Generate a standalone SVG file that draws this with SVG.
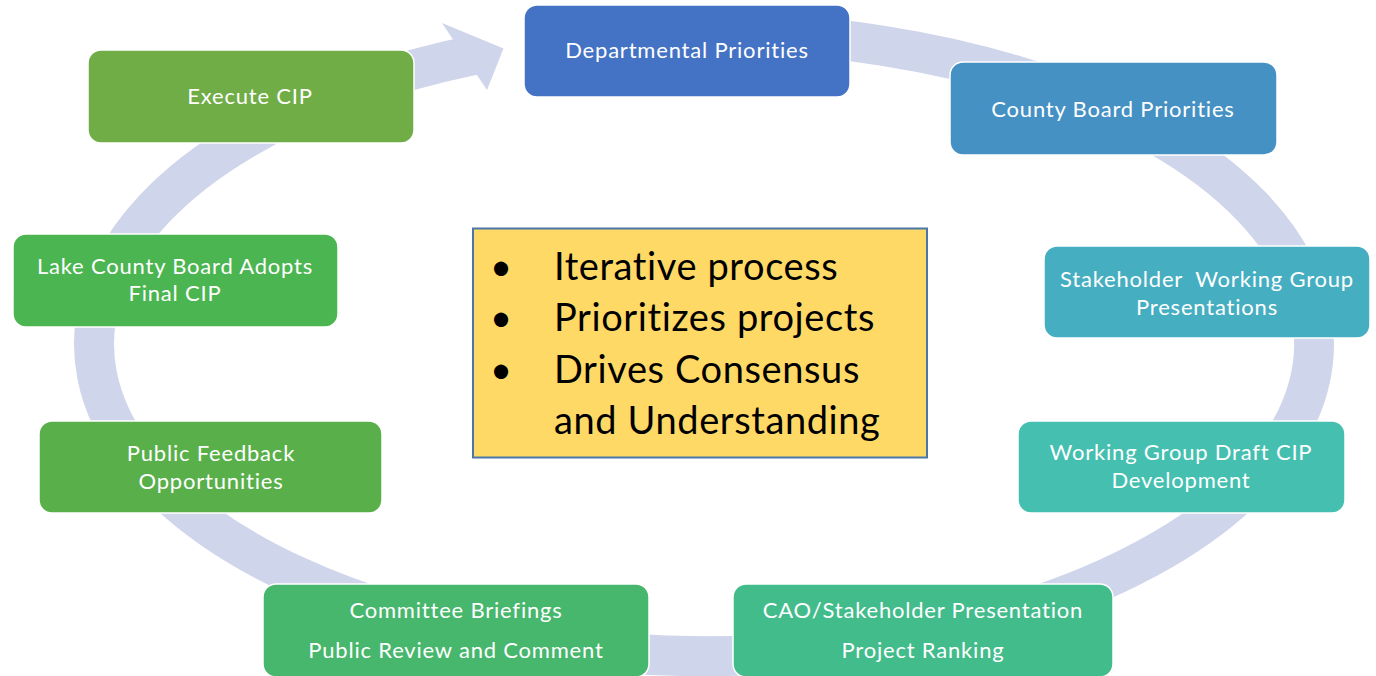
<svg xmlns="http://www.w3.org/2000/svg" width="1376" height="676" viewBox="0 0 1376 676">
<style>
.box{stroke:#FFFFFF;stroke-width:1.5}
.lbl{font-family:Lato,"Open Sans",sans-serif;font-size:22px;letter-spacing:0.8px;fill:#FFFFFF;text-anchor:middle}
.big{font-family:Lato,"Open Sans",sans-serif;font-size:38px;letter-spacing:0.6px;fill:#000000}
</style>
<rect width="1376" height="676" fill="#FFFFFF"/>
<g id="connectors">
<path d="M 600 36.57 A 610 312 0 1 1 474 55.03" fill="none" stroke="#CFD5EA" stroke-width="40"/>
<polygon points="442,23 503.5,48.5 487,90" fill="#CFD5EA"/>
</g>
<g id="departmental">
<rect class="box" x="524" y="5" width="326" height="92" rx="13" fill="#4472C4"/>
<text class="lbl" x="687" y="58">Departmental Priorities</text>
</g>
<g id="county-board">
<rect class="box" x="950" y="62" width="327" height="93" rx="13" fill="#4591C3"/>
<text class="lbl" x="1113" y="116.5">County Board Priorities</text>
</g>
<g id="stakeholder">
<rect class="box" x="1044" y="246" width="326" height="92" rx="13" fill="#46AEC1"/>
<text class="lbl" x="1207" y="286.5" xml:space="preserve">Stakeholder  Working Group</text>
<text class="lbl" x="1207" y="314.5">Presentations</text>
</g>
<g id="working-group">
<rect class="box" x="1018" y="421" width="327" height="92" rx="13" fill="#45BFB0"/>
<text class="lbl" x="1181" y="460">Working Group Draft CIP</text>
<text class="lbl" x="1181" y="488">Development</text>
</g>
<g id="cao">
<rect class="box" x="733" y="584" width="380" height="93" rx="13" fill="#43BC8C"/>
<text class="lbl" x="923" y="618">CAO/Stakeholder Presentation</text>
<text class="lbl" x="923" y="658">Project Ranking</text>
</g>
<g id="committee">
<rect class="box" x="263" y="584" width="386" height="93" rx="13" fill="#46B76C"/>
<text class="lbl" x="456" y="618">Committee Briefings</text>
<text class="lbl" x="456" y="658">Public Review and Comment</text>
</g>
<g id="public-feedback">
<rect class="box" x="39" y="421" width="343" height="92" rx="13" fill="#59B04A"/>
<text class="lbl" x="211" y="461">Public Feedback</text>
<text class="lbl" x="211" y="488.5">Opportunities</text>
</g>
<g id="lake-county">
<rect class="box" x="13" y="234" width="325" height="93" rx="13" fill="#4BB551"/>
<text class="lbl" x="175" y="274">Lake County Board Adopts</text>
<text class="lbl" x="175" y="301">Final CIP</text>
</g>
<g id="execute">
<rect class="box" x="88" y="50" width="326" height="93" rx="13" fill="#70AD47"/>
<text class="lbl" x="250" y="104">Execute CIP</text>
</g>
<g id="summary">
<rect x="473" y="228.5" width="454" height="229" fill="#FFD966" stroke="#4A77A8" stroke-width="2"/>
<text class="big" x="490" y="280">•</text>
<text class="big" x="554" y="280">Iterative process</text>
<text class="big" x="490" y="331">•</text>
<text class="big" x="554" y="331">Prioritizes projects</text>
<text class="big" x="490" y="382.5">•</text>
<text class="big" x="554" y="382.5">Drives Consensus</text>
<text class="big" x="554" y="433.5">and Understanding</text>
</g>
</svg>
